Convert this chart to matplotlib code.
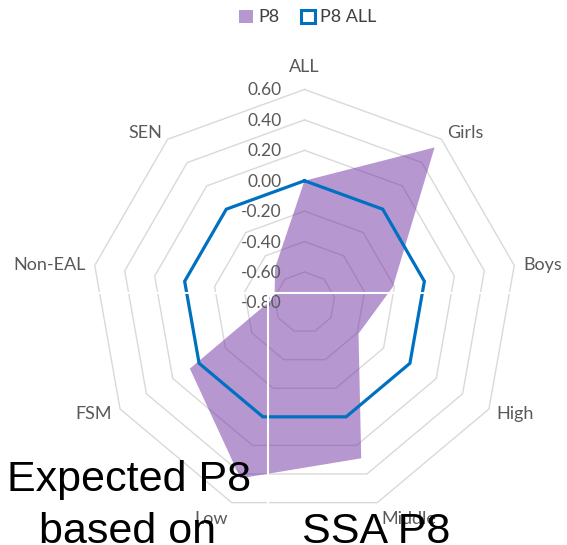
import numpy as np
import matplotlib
matplotlib.use("Agg")
import matplotlib.pyplot as plt
from matplotlib.patches import Patch
from matplotlib.lines import Line2D

plt.rcParams['font.family'] = ['Lato', 'DejaVu Sans']

# data
categories = ['ALL', 'Girls', 'Boys', 'High', 'Middle', 'Low', 'FSM', 'Non-EAL', 'SEN']
p8 = [0.00, 0.53, -0.21, -0.39, 0.29, 0.43, 0.07, -0.60, -0.50]
p8_all = [0.00, 0.00, 0.00, 0.00, 0.00, 0.00, 0.00, 0.00, 0.00]
ring_values = [-0.6, -0.4, -0.2, 0.0, 0.2, 0.4, 0.6]
tick_values = [0.6, 0.4, 0.2, 0.0, -0.2, -0.4, -0.6, -0.8]

n = len(categories)
angles = np.arange(n) * 2 * np.pi / n
closed = np.append(angles, angles[0])

def close(vals):
    return list(vals) + [vals[0]]

fig = plt.figure(figsize=(5.67, 5.45), dpi=100)
ax = fig.add_axes([0.1614, 0.0542, 0.7513, 0.7817], projection='polar')
ax.set_theta_offset(np.pi / 2)
ax.set_theta_direction(-1)
ax.set_ylim(-0.8, 0.6)
ax.grid(False)
ax.spines['polar'].set_visible(False)
ax.set_xticks([])
ax.set_yticks([])
ax.patch.set_visible(False)

# polygon rings like excel
for v in ring_values:
    ax.plot(closed, [v] * (n + 1), color='#D9D9D9', lw=1.0, zorder=1, clip_on=False)

ax.fill(closed, close(p8), color='#7030A0', alpha=0.5, lw=0, zorder=2)
ax.plot(closed, close(p8_all), color='#0070C0', lw=2.3, zorder=3, clip_on=False,
        solid_joinstyle='miter')

# radial labels
for v in tick_values:
    ax.annotate(f'{v:.2f}', xy=(0, v), xytext=(-23, -1), textcoords='offset pixels',
                ha='right', va='center', fontsize=12.5, color='#595959', annotation_clip=False)

# category labels
for a, name in zip(angles, categories):
    ang = np.pi / 2 - a
    c, s = np.cos(ang), np.sin(ang)
    if abs(c) < 0.05:
        ha, va, off = 'center', 'baseline', (0, 17)
    elif s < -0.9:
        ha = 'left' if c > 0 else 'right'
        va, off = 'top', (4 * np.sign(c), -8)
    else:
        ha = 'left' if c > 0 else 'right'
        va, off = 'center', (9 * c, 9 * s - 1)
    ax.annotate(name, xy=(a, 0.6), xytext=off, textcoords='offset pixels',
                ha=ha, va=va, fontsize=13, color='#595959', annotation_clip=False)

# legend
handles = [Patch(facecolor='#B797CF', edgecolor='none', label='P8'),
           Patch(facecolor='white', edgecolor='#0070C0', lw=2.2, label='P8 ALL')]
fig.legend(handles=handles, loc='center', bbox_to_anchor=(0.543, 0.968), ncol=2,
           frameon=False, handlelength=0.75, handleheight=0.75, handletextpad=0.3,
           columnspacing=1.2, fontsize=13, labelcolor='#404040')

# white text box borders on top
fig.add_artist(Line2D([0, 1], [0.4624, 0.4624], transform=fig.transFigure,
                      color='white', lw=1.5, zorder=10))
fig.add_artist(Line2D([0.4718, 0.4718], [0, 0.4624], transform=fig.transFigure,
                      color='white', lw=1.5, zorder=10))

big = dict(family=['Liberation Sans', 'DejaVu Sans'], fontsize=31, color='black',
           ha='center', va='baseline', zorder=11)
fig.text(129.5 / 567, 0.0998, 'Expected P8', **big)
fig.text(127.5 / 567, 0.003, 'based on', **big)
fig.text(376 / 567, 0.003, 'SSA P8', **big)

fig.savefig('out.png', dpi=100)
